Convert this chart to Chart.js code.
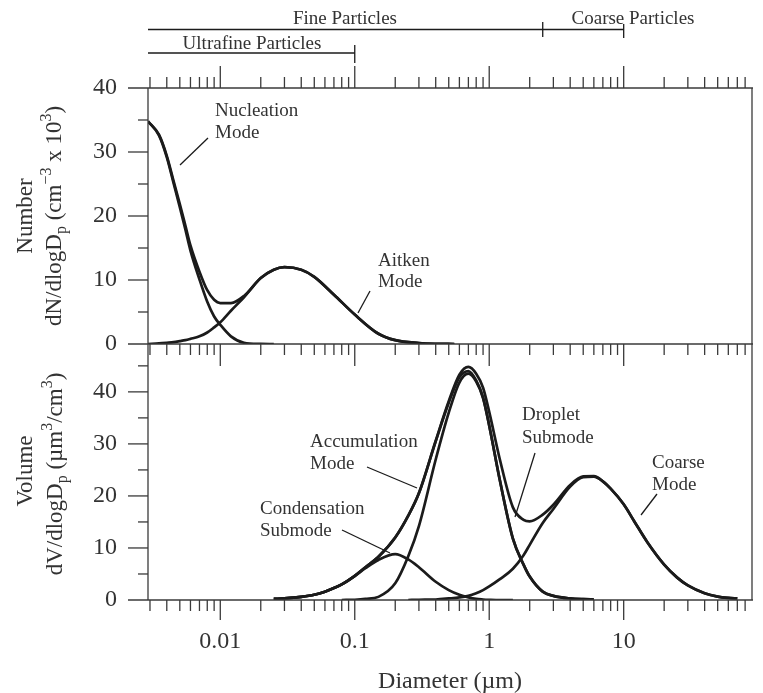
<!DOCTYPE html>
<html>
<head>
<meta charset="utf-8">
<script src="https://cdn.jsdelivr.net/npm/chart.js@4.4.1/dist/chart.umd.min.js"></script>
<style>
  html, body { margin: 0; padding: 0; background: #fff; }
  #wrap { position: relative; width: 763px; height: 693px; }
  #wrap canvas { position: absolute; left: 0; }
  #c-num { top: 0; }
  #c-vol { top: 334px; }
</style>
</head>
<body>
<div id="wrap">
  <canvas id="c-num" width="763" height="358"></canvas>
  <canvas id="c-vol" width="763" height="359"></canvas>
</div>
<script>
// diámetros (µm) y valores
const numD = [0.0029, 0.0035, 0.004, 0.0045, 0.005, 0.0055, 0.006, 0.007, 0.008, 0.009, 0.01, 0.012, 0.015, 0.02, 0.025, 0.03, 0.04, 0.05, 0.07, 0.1, 0.15, 0.2, 0.3, 0.4, 0.55];
const nucleacion = [34.8, 32.6, 29.2, 25.1, 21.4, 17.9, 14.6, 10.1, 6.6, 4.3, 3.0, 1.2, 0.2, 0.02, 0, null, null, null, null, null, null, null, null, null, null];
const aitken = [0, 0.1, 0.2, 0.3, 0.45, 0.6, 0.8, 1.2, 1.8, 2.6, 3.4, 5.2, 7.3, 10.3, 11.6, 12.0, 11.6, 10.5, 7.7, 4.6, 1.6, 0.6, 0.15, 0.03, 0];
const totalNum = [34.8, 32.7, 29.4, 25.4, 21.85, 18.5, 15.4, 11.3, 8.4, 6.9, 6.4, 6.4, 7.5, 10.3, 11.6, 12.0, 11.6, 10.5, 7.7, 4.6, 1.6, 0.6, 0.15, 0.03, 0];

const volD = [0.025, 0.03, 0.04, 0.05, 0.06, 0.07, 0.08, 0.1, 0.12, 0.15, 0.2, 0.25, 0.3, 0.4, 0.5, 0.6, 0.7, 0.8, 0.9, 1, 1.2, 1.5, 1.8, 2, 2.5, 3, 4, 5, 6, 7, 8, 10, 12, 15, 20, 25, 30, 40, 50, 60, 70];
const condensacion = [0.2, 0.3, 0.6, 1.0, 1.6, 2.3, 3.0, 4.6, 6.1, 7.7, 8.8, 7.8, 6.3, 3.5, 1.9, 1.0, 0.5, 0.2, 0.1, 0.05, 0, 0, null, null, null, null, null, null, null, null, null, null, null, null, null, null, null, null, null, null, null];
const gotas = [null, null, null, null, null, null, 0, 0.05, 0.2, 0.6, 3.2, 8.4, 14.2, 27.0, 36.0, 41.8, 43.5, 42.0, 38.8, 33.5, 23.0, 11.8, 6.8, 4.5, 1.6, 0.8, 0.3, 0.15, 0.1, null, null, null, null, null, null, null, null, null, null, null, null];
const acumulacion = [0.2, 0.3, 0.6, 1.0, 1.6, 2.3, 3.0, 4.65, 6.3, 8.3, 12.0, 16.2, 20.5, 30.5, 37.9, 42.8, 44.0, 42.2, 38.9, 33.55, 23.0, 11.8, 6.8, 4.5, 1.6, 0.8, 0.3, 0.15, 0.1, null, null, null, null, null, null, null, null, null, null, null, null];
const gruesa = [null, null, null, null, null, null, null, null, null, null, null, 0, 0.05, 0.1, 0.3, 0.5, 0.8, 1.3, 1.9, 2.6, 4.0, 6.0, 8.6, 10.6, 14.8, 17.5, 21.8, 23.6, 23.7, 22.8, 21.4, 18.4, 15.1, 11.1, 6.8, 4.3, 2.8, 1.3, 0.65, 0.4, 0.3];
const totalVol = [0.2, 0.3, 0.6, 1.0, 1.6, 2.3, 3.0, 4.65, 6.3, 8.3, 12.0, 16.2, 20.55, 30.6, 38.2, 43.3, 44.8, 43.5, 40.8, 36.15, 27.0, 17.8, 15.4, 15.1, 16.4, 18.3, 22.1, 23.75, 23.8, 22.8, 21.4, 18.4, 15.1, 11.1, 6.8, 4.3, 2.8, 1.3, 0.65, 0.4, 0.3];

// ejes
const X_MIN = 0.0029, X_MAX = 90;
const xTicks = [0.01, 0.1, 1, 10];
const xTickLabels = ['0.01', '0.1', '1', '10'];
const yTicks = [0, 10, 20, 30, 40];

const FUENTE = '"Liberation Serif", "DejaVu Serif", serif';
const TINTA = '#1b1b1b';
const TEXTO = '#333';
const EJE = '#3a3a3a';

function serie(xs, ys) {
  return xs.map((x, i) => ({ x, y: ys[i] })).filter(p => p.y !== null);
}

function curva(xs, ys) {
  return {
    data: serie(xs, ys), borderColor: TINTA, borderWidth: 2.7,
    pointRadius: 0, fill: false, cubicInterpolationMode: 'monotone'
  };
}

function linea(ctx, x1, y1, x2, y2) {
  ctx.beginPath(); ctx.moveTo(x1, y1); ctx.lineTo(x2, y2); ctx.stroke();
}

// marcas del eje log: [valor, esMayor]
function marcasLog() {
  const out = [];
  for (let e = -3; e <= 1; e++) {
    for (let m = 1; m <= 9; m++) {
      const v = m * Math.pow(10, e);
      if (v > X_MIN && v < X_MAX) out.push([v, m === 1]);
    }
  }
  return out;
}

function texto(ctx, t, x, y, tam, align) {
  ctx.font = `${tam}px ${FUENTE}`;
  ctx.fillStyle = TEXTO;
  ctx.textAlign = align || 'left';
  ctx.textBaseline = 'middle';
  ctx.fillText(t, x, y);
}

// texto con subíndices / superíndices
function textoRico(ctx, partes, cx, cy, tam, girar) {
  ctx.save();
  ctx.translate(cx, cy);
  if (girar) ctx.rotate(-Math.PI / 2);
  const fBase = `${tam}px ${FUENTE}`, fPeq = `${Math.round(tam * 0.7)}px ${FUENTE}`;
  let total = 0;
  const anchos = partes.map(([t, tipo]) => {
    ctx.font = tipo ? fPeq : fBase;
    const w = ctx.measureText(t).width; total += w; return w;
  });
  let x0 = -total / 2;
  ctx.fillStyle = TEXTO; ctx.textAlign = 'left'; ctx.textBaseline = 'alphabetic';
  partes.forEach(([t, tipo], i) => {
    ctx.font = tipo ? fPeq : fBase;
    const dy = tipo === 'sup' ? -tam * 0.4 : tipo === 'sub' ? tam * 0.25 : 0;
    ctx.fillText(t, x0, tam * 0.33 + dy);
    x0 += anchos[i];
  });
  ctx.restore();
}

function etiqueta(ctx, lineas, x, ys, guia, offY) {
  lineas.forEach((t, i) => texto(ctx, t, x, ys[i] - offY, 19));
  ctx.strokeStyle = TINTA; ctx.lineWidth = 1.3;
  linea(ctx, guia[0], guia[1] - offY, guia[2], guia[3] - offY);
}

function escalaY(max) {
  return {
    min: 0, max: max,
    afterBuildTicks: s => { s.ticks = yTicks.map(v => ({ value: v })); },
    ticks: { font: { family: FUENTE, size: 24 }, color: TEXTO, padding: 23 },
    grid: { display: false }, border: { display: false },
    afterFit: s => { s.width = 148; s.paddingTop = 0; s.paddingBottom = 0; }
  };
}

const marcoNumero = {
  id: 'marcoNumero',
  afterDraw(chart) {
    const { ctx, chartArea: a, scales: { x, y } } = chart;
    ctx.save();
    ctx.strokeStyle = EJE; ctx.lineWidth = 1.3;
    linea(ctx, a.left, a.top, a.left, a.bottom);
    linea(ctx, a.right, a.top, a.right, a.bottom);
    linea(ctx, a.left - 20, a.top, a.right + 1, a.top);
    for (let v = 5; v < 40; v += 5) {
      const py = y.getPixelForValue(v);
      linea(ctx, a.left - (v % 10 === 0 ? 20 : 10), py, a.left, py);
    }
    marcasLog().forEach(([v, mayor]) => {
      const px = x.getPixelForValue(v);
      linea(ctx, px, a.top - (mayor ? 22 : 11), px, a.top);
    });

    // rangos de tamaño
    ctx.strokeStyle = TINTA; ctx.lineWidth = 1.3;
    const p25 = x.getPixelForValue(2.5), p10 = x.getPixelForValue(10), p01 = x.getPixelForValue(0.1);
    linea(ctx, a.left, 29.5, p10, 29.5);
    linea(ctx, p25, 22, p25, 37);
    linea(ctx, p10, 24, p10, 38);
    linea(ctx, a.left, 53, p01, 53);
    linea(ctx, p01, 45, p01, 63);
    texto(ctx, 'Fine Particles', 345, 19, 19, 'center');
    texto(ctx, 'Coarse Particles', 633, 19, 19, 'center');
    texto(ctx, 'Ultrafine Particles', 252, 44, 19, 'center');

    etiqueta(ctx, ['Nucleation', 'Mode'], 215, [111, 133], [180, 165, 208, 138], 0);
    etiqueta(ctx, ['Aitken', 'Mode'], 378, [261, 282], [358, 313, 370, 291], 0);

    textoRico(ctx, [['Number']], 24, 216, 23, true);
    textoRico(ctx, [['dN/dlogD'], ['p', 'sub'], [' (cm'], ['\u22123', 'sup'], [' x 10'], ['3', 'sup'], [')']], 53, 216, 23, true);
    ctx.restore();
  }
};

const OFF = 334; // desplazamiento del segundo lienzo
const marcoVolumen = {
  id: 'marcoVolumen',
  afterDraw(chart) {
    const { ctx, chartArea: a, scales: { x, y } } = chart;
    ctx.save();
    ctx.strokeStyle = EJE; ctx.lineWidth = 1.3;
    linea(ctx, a.left, a.top, a.left, a.bottom);
    linea(ctx, a.right, a.top, a.right, a.bottom);
    linea(ctx, a.left - 20, a.top, a.right + 1, a.top);
    linea(ctx, a.left - 20, a.bottom, a.right + 1, a.bottom);
    for (let v = 5; v < 49; v += 5) {
      const py = y.getPixelForValue(v);
      linea(ctx, a.left - (v % 10 === 0 ? 20 : 10), py, a.left, py);
    }
    marcasLog().forEach(([v, mayor]) => {
      const px = x.getPixelForValue(v);
      linea(ctx, px, a.top, px, a.top + (mayor ? 22 : 11));
      linea(ctx, px, a.bottom, px, a.bottom + (mayor ? 20 : 11));
    });

    etiqueta(ctx, ['Accumulation', 'Mode'], 310, [442, 464], [367, 467, 417, 488], OFF);
    etiqueta(ctx, ['Condensation', 'Submode'], 260, [509, 531], [342, 530, 390, 553], OFF);
    etiqueta(ctx, ['Droplet', 'Submode'], 522, [415, 438], [535, 453, 515, 517], OFF);
    etiqueta(ctx, ['Coarse', 'Mode'], 652, [463, 485], [657, 494, 641, 515], OFF);

    textoRico(ctx, [['Volume']], 24, 471 - OFF, 23, true);
    textoRico(ctx, [['dV/dlogD'], ['p', 'sub'], [' (\u00b5m'], ['3', 'sup'], ['/cm'], ['3', 'sup'], [')']], 54, 474 - OFF, 23, true);
    textoRico(ctx, [['Diameter (\u00b5m)']], (a.left + a.right) / 2, 680 - OFF, 24, false);
    ctx.restore();
  }
};

const basePlugins = { legend: { display: false }, tooltip: { enabled: false } };

new Chart(document.getElementById('c-num'), {
  type: 'line',
  data: { datasets: [curva(numD, nucleacion), curva(numD, aitken), curva(numD, totalNum)] },
  options: {
    responsive: false, animation: false,
    layout: { padding: { top: 88, right: 11, bottom: 14, left: 0 } },
    plugins: basePlugins,
    scales: {
      x: { type: 'logarithmic', min: X_MIN, max: X_MAX, display: false },
      y: escalaY(40)
    }
  },
  plugins: [marcoNumero]
});

new Chart(document.getElementById('c-vol'), {
  type: 'line',
  data: { datasets: [curva(volD, condensacion), curva(volD, gotas), curva(volD, acumulacion), curva(volD, gruesa), curva(volD, totalVol)] },
  options: {
    responsive: false, animation: false,
    layout: { padding: { top: 10, right: 11, bottom: 0, left: 0 } },
    plugins: basePlugins,
    scales: {
      x: {
        type: 'logarithmic', min: X_MIN, max: X_MAX,
        afterBuildTicks: s => { s.ticks = xTicks.map(v => ({ value: v })); },
        ticks: {
          callback: (v, i) => xTickLabels[i],
          autoSkip: false, maxRotation: 0,
          font: { family: FUENTE, size: 24 }, color: TEXTO, padding: 19
        },
        grid: { display: false }, border: { display: false },
        afterFit: s => { s.height = 93; s.paddingLeft = 0; s.paddingRight = 0; }
      },
      y: escalaY(49.2)
    }
  },
  plugins: [marcoVolumen]
});
</script>
</body>
</html>
